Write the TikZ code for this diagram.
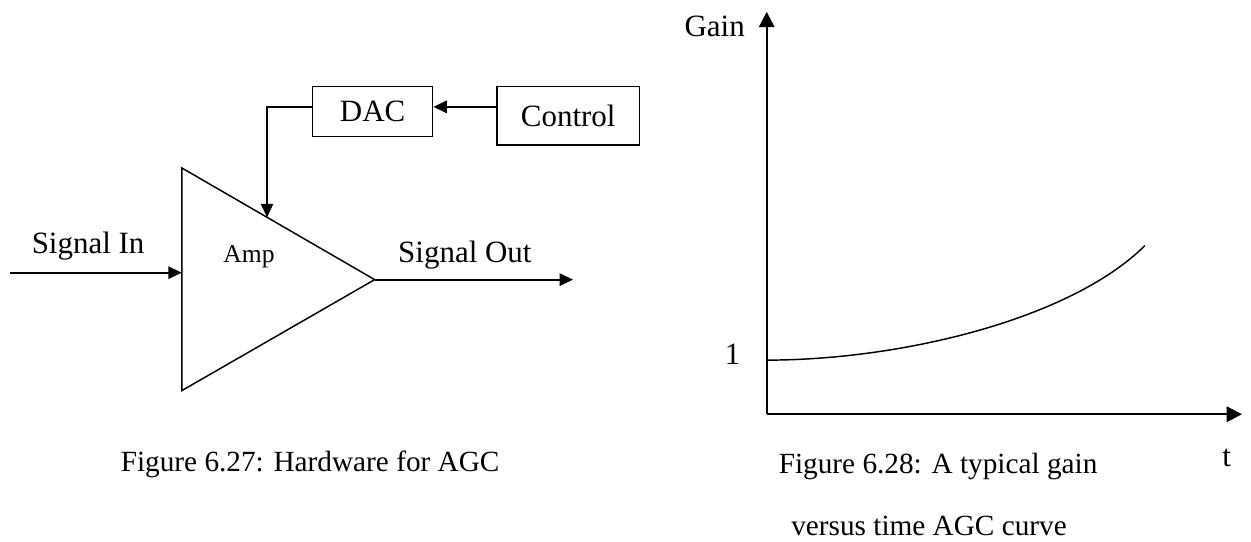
\documentclass[tikz,border=0pt]{standalone}
\usepackage{fontspec}
\setmainfont{Liberation Serif}
\usetikzlibrary{arrows.meta, calc}
\tikzset{
  blk/.style={draw, line width=0.6pt, inner sep=0pt, font=\fontsize{12.7}{15}\selectfont},
  lbl/.style={font=\fontsize{12.7}{15}\selectfont, anchor=base, inner sep=0pt},
  figcap/.style={font=\fontsize{12}{14}\selectfont, anchor=base, inner sep=0pt},
  sig/.style={line width=0.8pt, -{Triangle[length=5.5pt, width=5pt]}},
  fbk/.style={line width=0.6pt, -{Triangle[length=5.5pt, width=5pt]}},
  axis/.style={line width=0.9pt, -{Triangle[length=6.3pt, width=6.3pt]}},
}
\def\yIn{-3.93}
\def\yCtl{-1.54}
\def\xO{11.05}
\def\yO{-5.97}

\begin{document}
\begin{tikzpicture}
\useasboundingbox (0,0) rectangle (18.03,-7.81);

% ── hardware for AGC ─────────────────────────────────────────────────────────
\coordinate (ampTL) at (2.62,-2.42);
\coordinate (ampBL) at (2.62,-5.63);
\coordinate (apex) at (5.40,-4.03);
\draw[line width=0.6pt] (ampTL) -- (ampBL) -- (apex) -- cycle;
\node[lbl, font=\fontsize{10.5}{12}\selectfont] (amp) at (3.59,-3.78) {Amp};

\node[blk, minimum width=1.73cm, minimum height=0.72cm] (dac) at (5.37,-1.61) {DAC};
\node[blk, minimum width=2.06cm, minimum height=0.84cm] (ctrl) at (8.19,-1.67) {Control};
\coordinate (lvl) at (0,\yCtl);
\draw[sig] (ctrl.west |- lvl) -- (dac.east |- lvl);
% gain set point on the upper edge of the amplifier
\coordinate (hit) at ($(ampTL)!0.442!(apex)$);
\draw[fbk] (dac.west |- lvl) -| (hit);

\coordinate (sigIn) at (0.14,\yIn);
\coordinate (sigOut) at (8.26,-4.03);
\draw[sig] (sigIn) -- (ampTL |- sigIn);
\draw[sig] (apex) -- (sigOut);
\node[lbl] (inLbl) at (1.27,-3.65) {Signal In};
\node[lbl] (outLbl) at (6.70,-3.78) {Signal Out};

\node[figcap] (cap1) at (4.47,-6.80) {Figure 6.27: Hardware for AGC};

% ── gain versus time ─────────────────────────────────────────────────────────
\coordinate (O) at (\xO,\yO);
\coordinate (yTop) at (\xO,-0.17);
\coordinate (xEnd) at (17.90,\yO);
\draw[axis] (O) -- (yTop);
\draw[axis] (O) -- (xEnd);
\node[lbl] (gain) at (10.30,-0.52) {Gain};
\node[lbl] (one) at (10.56,-5.26) {1};
\node[lbl] (tLbl) at (17.68,-6.73) {t};
\draw[line width=0.6pt] (\xO,-5.19) .. controls (12.97,-5.19) and (15.42,-4.61) .. (16.50,-3.54);

\node[figcap] (cap2a) at (13.52,-6.83) {Figure 6.28: A typical gain};
\node[figcap] (cap2b) at (13.39,-7.72) {versus time AGC curve};

\end{tikzpicture}
\end{document}
